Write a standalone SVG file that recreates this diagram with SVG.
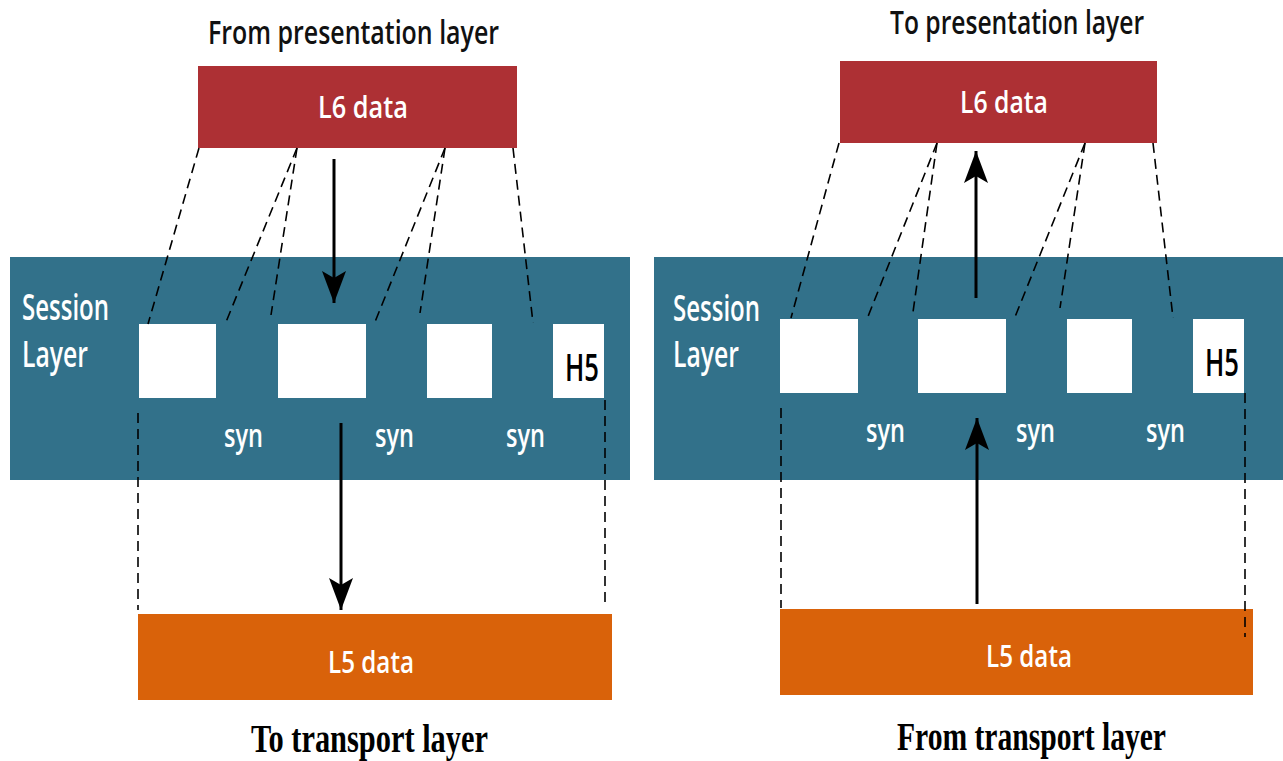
<svg xmlns="http://www.w3.org/2000/svg" width="1283" height="761" viewBox="0 0 1283 761">
<style>
.title{font-family:"Open Sans","Liberation Sans",sans-serif;font-weight:600;font-size:32px;fill:#111}
.foot{font-family:"Liberation Serif",serif;font-weight:bold;font-size:40px;fill:#000}
.data{font-family:"Open Sans","Liberation Sans",sans-serif;font-weight:600;font-size:30px;fill:#fff}
.band{fill:#32718a}
.l6{fill:#ad3034}
.l5{fill:#d9620a}
.seg{fill:#fff}
.lbl{font-family:"Open Sans","Liberation Sans",sans-serif;font-weight:600;font-size:36px;fill:#fff}
.syn{font-family:"Open Sans","Liberation Sans",sans-serif;font-weight:600;font-size:33px;fill:#fff}
.h5{font-family:"Open Sans","Liberation Sans",sans-serif;font-weight:600;font-size:38px;fill:#000}
.dash{stroke:#000;stroke-width:1.6;stroke-dasharray:10 6;fill:none}
.arr{stroke:#000;stroke-width:3;fill:none;marker-end:url(#ah)}
</style>
<defs>
<marker id="ah" markerUnits="userSpaceOnUse" markerWidth="33" markerHeight="25" viewBox="0 0 33 25" refX="32" refY="12.5" orient="auto">
<path d="M32,12.5 L0,0.5 L7,12.5 L0,24.5 Z" fill="#000"/>
</marker>
</defs>
<rect width="1283" height="761" fill="#fff"/>

<g id="left-title"><text class="title" x="208" y="44" textLength="291" lengthAdjust="spacingAndGlyphs">From presentation layer</text></g>
<g id="left-l6"><rect class="l6" x="198" y="66" width="319" height="82"/><text class="data" x="363" y="118" text-anchor="middle" textLength="90" lengthAdjust="spacingAndGlyphs">L6 data</text></g>
<g id="left-session">
<rect class="band" x="10" y="257" width="620" height="223"/>
<text class="lbl" x="22" y="320" textLength="87" lengthAdjust="spacingAndGlyphs">Session</text>
<text class="lbl" x="22" y="367" textLength="66" lengthAdjust="spacingAndGlyphs">Layer</text>
</g>
<g id="left-seg1"><rect class="seg" x="139" y="324" width="77" height="74"/></g>
<g id="left-seg2"><rect class="seg" x="278" y="324" width="88" height="74"/></g>
<g id="left-seg3"><rect class="seg" x="427" y="324" width="65" height="74"/></g>
<g id="left-h5"><rect class="seg" x="553" y="324" width="51" height="74"/><text class="h5" x="565" y="381" textLength="34" lengthAdjust="spacingAndGlyphs">H5</text></g>
<g id="left-syn">
<text class="syn" x="224" y="447" textLength="39" lengthAdjust="spacingAndGlyphs">syn</text>
<text class="syn" x="375" y="447" textLength="39" lengthAdjust="spacingAndGlyphs">syn</text>
<text class="syn" x="506" y="447" textLength="39" lengthAdjust="spacingAndGlyphs">syn</text>
</g>
<g id="left-l5"><rect class="l5" x="138" y="614" width="474" height="86"/><text class="data" x="371" y="673" text-anchor="middle" textLength="86" lengthAdjust="spacingAndGlyphs">L5 data</text></g>
<g id="left-foot"><text class="foot" x="251" y="752" textLength="237" lengthAdjust="spacingAndGlyphs">To transport layer</text></g>

<g id="right-title"><text class="title" x="890" y="34" textLength="254" lengthAdjust="spacingAndGlyphs">To presentation layer</text></g>
<g id="right-l6"><rect class="l6" x="840" y="61" width="317" height="82"/><text class="data" x="1004" y="113" text-anchor="middle" textLength="88" lengthAdjust="spacingAndGlyphs">L6 data</text></g>
<g id="right-session">
<rect class="band" x="654" y="257" width="629" height="223"/>
<text class="lbl" x="673" y="321" textLength="87" lengthAdjust="spacingAndGlyphs">Session</text>
<text class="lbl" x="673" y="367" textLength="66" lengthAdjust="spacingAndGlyphs">Layer</text>
</g>
<g id="right-seg1"><rect class="seg" x="780" y="319" width="78" height="74"/></g>
<g id="right-seg2"><rect class="seg" x="918" y="319" width="88" height="74"/></g>
<g id="right-seg3"><rect class="seg" x="1067" y="319" width="65" height="74"/></g>
<g id="right-h5"><rect class="seg" x="1193" y="319" width="51" height="74"/><text class="h5" x="1205" y="376" textLength="34" lengthAdjust="spacingAndGlyphs">H5</text></g>
<g id="right-syn">
<text class="syn" x="866" y="442" textLength="39" lengthAdjust="spacingAndGlyphs">syn</text>
<text class="syn" x="1016" y="442" textLength="39" lengthAdjust="spacingAndGlyphs">syn</text>
<text class="syn" x="1146" y="442" textLength="39" lengthAdjust="spacingAndGlyphs">syn</text>
</g>
<g id="right-l5"><rect class="l5" x="780" y="609" width="473" height="86"/><text class="data" x="1029" y="667" text-anchor="middle" textLength="86" lengthAdjust="spacingAndGlyphs">L5 data</text></g>
<g id="right-foot"><text class="foot" x="897" y="750" textLength="269" lengthAdjust="spacingAndGlyphs">From transport layer</text></g>

<g id="connectors">
<line class="dash" x1="199" y1="148" x2="148" y2="324"/>
<line class="dash" x1="297" y1="148" x2="226" y2="322"/>
<line class="dash" x1="297" y1="148" x2="271" y2="315"/>
<line class="dash" x1="445" y1="148" x2="375" y2="322"/>
<line class="dash" x1="445" y1="148" x2="420" y2="313"/>
<line class="dash" x1="513" y1="148" x2="533" y2="323"/>
<line class="dash" x1="138" y1="413" x2="138" y2="610"/>
<line class="dash" x1="605" y1="400" x2="605" y2="604"/>
<line class="arr" x1="334" y1="159" x2="334" y2="303"/>
<line class="arr" x1="341" y1="423" x2="341" y2="610"/>

<line class="dash" x1="839" y1="143" x2="791" y2="318"/>
<line class="dash" x1="937" y1="143" x2="867" y2="319"/>
<line class="dash" x1="937" y1="143" x2="913" y2="312"/>
<line class="dash" x1="1085" y1="143" x2="1015" y2="317"/>
<line class="dash" x1="1085" y1="143" x2="1060" y2="308"/>
<line class="dash" x1="1153" y1="143" x2="1173" y2="318"/>
<line class="dash" x1="781" y1="408" x2="781" y2="608"/>
<line class="dash" x1="1245" y1="393" x2="1245" y2="637"/>
<line class="arr" x1="976" y1="298" x2="976" y2="151"/>
<line class="arr" x1="977" y1="604" x2="977" y2="418"/>
</g>
</svg>
